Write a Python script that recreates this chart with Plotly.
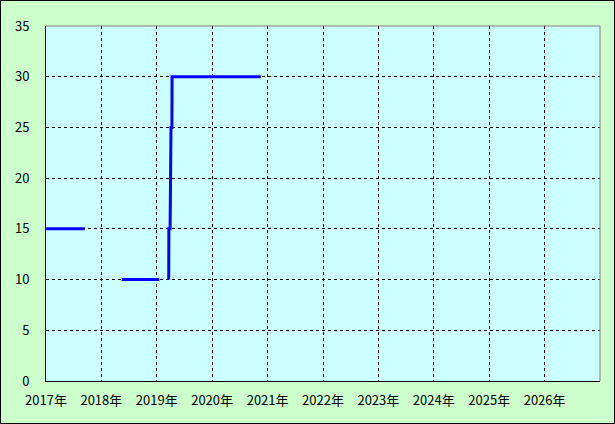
import plotly.graph_objects as go

# data
dates = ["2017-01-03", "2017-09-14", None,
         "2018-05-15", "2019-01-17", None,
         "2019-03-21", "2019-03-22", "2019-03-30", "2019-03-31",
         "2019-04-04", "2019-04-05", "2019-04-11", "2019-04-12", "2020-11-17"]
values = [15, 15, None,
          10, 10, None,
          10, 15, 15, 20,
          20, 25, 25, 30, 30]
years = list(range(2017, 2027))
year_labels = [f"{y}年" for y in years]
y_ticks = list(range(0, 36, 5))

W, H = 615, 424
L, R, T, B = 46, 15, 26, 43

font = dict(family="Noto Sans CJK JP, DejaVu Sans, sans-serif", size=13, color="black")

fig = go.Figure()
fig.add_trace(go.Scatter(
    x=dates, y=values, mode="lines",
    line=dict(color="#0000ff", width=3),
    connectgaps=False, showlegend=False, hoverinfo="x+y"))

fig.update_layout(
    width=W, height=H,
    margin=dict(l=L, r=R, t=T, b=B, pad=0),
    paper_bgcolor="#ccffcc",
    plot_bgcolor="#ccffff",
    font=font,
    xaxis=dict(
        type="date",
        range=["2017-01-01", "2027-01-01"],
        tickvals=[f"{y}-01-01" for y in years],
        ticktext=year_labels,
        showgrid=True, gridcolor="black", gridwidth=1, griddash="3px,3px",
        showline=True, linecolor="black", linewidth=1,
        zeroline=False, ticks="", ticklabelstandoff=7,
        tickfont=font, fixedrange=True,
    ),
    yaxis=dict(
        range=[0, 35],
        tickvals=y_ticks,
        showgrid=True, gridcolor="black", gridwidth=1, griddash="3px,3px",
        showline=True, linecolor="black", linewidth=1,
        zeroline=False, ticks="", ticklabelstandoff=13,
        tickfont=font, fixedrange=True,
    ),
    shapes=[
        dict(type="line", xref="paper", yref="paper", x0=0, x1=1, y0=1, y1=1,
             line=dict(color="#808080", width=1)),
        dict(type="line", xref="paper", yref="paper", x0=1, x1=1, y0=0, y1=1,
             line=dict(color="#808080", width=1)),
    ],
)

post = """
document.body.style.margin='0';
document.body.style.padding='0';
var ov=document.createElement('div');
ov.style.position='absolute';
ov.style.left='0px';
ov.style.top='0px';
ov.style.width='615px';
ov.style.height='424px';
ov.style.boxSizing='border-box';
ov.style.border='1px solid black';
ov.style.pointerEvents='none';
ov.style.zIndex='1000';
document.body.appendChild(ov);
"""
fig.write_html("out.html", config={"displayModeBar": False}, post_script=post)
